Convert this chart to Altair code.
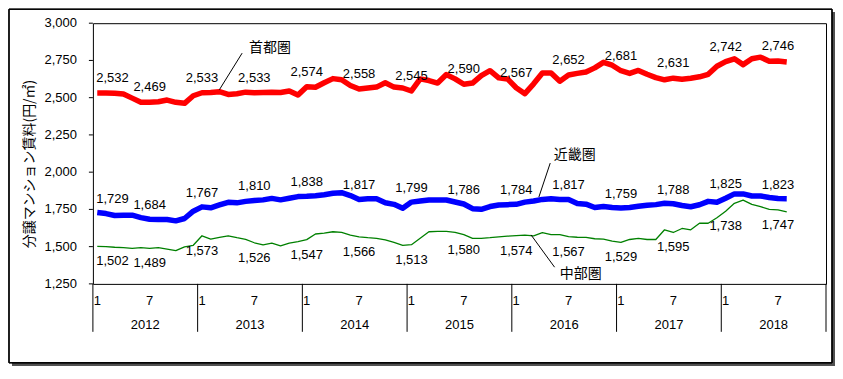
import altair as alt
import pandas as pd

# ---- data (monthly, Jan 2012 - Aug 2018) ----
years = [2012, 2013, 2014, 2015, 2016, 2017, 2018]
series_names = ["首都圏", "近畿圏", "中部圏"]
series_colors = ["#FF0000", "#0000FF", "#008000"]

shuto = [
    2532, 2532, 2530, 2524, 2497, 2469,
    2469, 2473, 2484, 2469, 2462, 2513,
    2533, 2535, 2540, 2522, 2526, 2537,
    2533, 2535, 2537, 2535, 2545, 2518,
    2574, 2570, 2600, 2628, 2620, 2582,
    2558, 2565, 2571, 2600, 2571, 2565,
    2545, 2626, 2615, 2598, 2655, 2626,
    2590, 2598, 2648, 2681, 2633, 2626,
    2567, 2527, 2593, 2666, 2666, 2611,
    2652, 2663, 2672, 2700, 2737, 2718,
    2681, 2663, 2683, 2657, 2635, 2620,
    2631, 2624, 2631, 2640, 2657, 2711,
    2742, 2761, 2722, 2761, 2772, 2744,
    2746, 2740,
]
kinki = [
    1729, 1722, 1709, 1711, 1711, 1695,
    1684, 1682, 1682, 1673, 1689, 1738,
    1767, 1761, 1780, 1798, 1794, 1804,
    1810, 1814, 1824, 1814, 1825, 1836,
    1838, 1842, 1848, 1858, 1862, 1843,
    1817, 1821, 1821, 1795, 1784, 1758,
    1799, 1806, 1813, 1813, 1813, 1800,
    1786, 1755, 1751, 1769, 1780, 1782,
    1784, 1799, 1806, 1817, 1821, 1817,
    1817, 1790, 1785, 1763, 1770, 1763,
    1759, 1763, 1771, 1778, 1782, 1791,
    1788, 1776, 1768, 1781, 1804, 1798,
    1825, 1854, 1854, 1840, 1840, 1830,
    1823, 1822,
]
chubu = [
    1502, 1500, 1496, 1494, 1488, 1494,
    1489, 1493, 1484, 1473, 1498, 1509,
    1573, 1551, 1562, 1573, 1560, 1549,
    1526, 1512, 1523, 1505, 1523, 1534,
    1547, 1585, 1591, 1600, 1596, 1578,
    1566, 1560, 1556, 1545, 1528, 1509,
    1513, 1556, 1600, 1602, 1602, 1596,
    1580, 1556, 1556, 1560, 1566, 1570,
    1574, 1578, 1572, 1594, 1581, 1581,
    1567, 1563, 1562, 1553, 1551, 1537,
    1529, 1548, 1555, 1548, 1548, 1613,
    1595, 1622, 1613, 1657, 1657, 1694,
    1738, 1791, 1812, 1784, 1768, 1750,
    1747, 1733,
]
month_tick_labels = ["1", "7"]
y_ticks = [1250, 1500, 1750, 2000, 2250, 2500, 2750, 3000]
y_title = "分譲マンション賃料(円/㎡)"

# annotation positions in data units (month index, value)
ann_t = [20.3, 55.2, 55.9]
ann_v = [2832, 2115, 1317]
lead_t1 = [17.1, 52.4, 50.2]
lead_v1 = [2799, 2061, 1579]
lead_t2 = [14.5, 51.1, 52.9]
lead_v2 = [2554, 1833, 1362]

# ---- tables ----
rows = []
for name, vals in zip(series_names, [shuto, kinki, chubu]):
    for i, v in enumerate(vals):
        rows.append({"i": i, "t": i + 0.5, "series": name, "value": v})
df = pd.DataFrame(rows)

ann = pd.DataFrame({"t": ann_t, "v": ann_v, "label": series_names})
lead = pd.DataFrame({"t1": lead_t1, "v1": lead_v1, "t2": lead_t2, "v2": lead_v2})

mt = []
for k in range(len(years)):
    mt.append({"t": 12 * k + 0.5, "label": month_tick_labels[0]})
    mt.append({"t": 12 * k + 6.5, "label": month_tick_labels[1]})
month_df = pd.DataFrame(mt)
year_df = pd.DataFrame({"t": [12 * k + 6 for k in range(len(years))], "label": [str(y) for y in years]})
sep_df = pd.DataFrame({"t": [12 * k for k in range(len(years) + 1)]})
ytick_df = pd.DataFrame({"value": y_ticks})

W, H = 734, 261
FONT = "Liberation Sans"
JFONT = "Noto Sans CJK JP"

xs = alt.Scale(domain=[0, 12 * len(years)], nice=False, zero=False)
ys = alt.Scale(domain=[1250, 3000], nice=False, zero=False)

X = alt.X("t:Q", scale=xs, axis=None)
Yn = alt.Y("value:Q", scale=ys, axis=None)

base = alt.Chart(df)

# frame + shadow
shadow_r = alt.Chart(ann).mark_rect(color="#505050").encode(
    x=alt.value(740), x2=alt.value(743), y=alt.value(-11), y2=alt.value(343))
shadow_b = alt.Chart(ann).mark_rect(color="#505050").encode(
    x=alt.value(-81), x2=alt.value(743), y=alt.value(340), y2=alt.value(343))
frame = alt.Chart(ann).mark_rect(fillOpacity=0, stroke="black", strokeWidth=1).encode(
    x=alt.value(-84), x2=alt.value(740), y=alt.value(-14), y2=alt.value(340))

layers = [shadow_r, shadow_b, frame]

# y axis ticks and labels
layers.append(alt.Chart(ytick_df).mark_rule(color="black", strokeWidth=1).encode(
    x=alt.value(-4), x2=alt.value(0), y=Yn))
layers.append(alt.Chart(ytick_df).mark_text(
    font=FONT, fontSize=13, color="black", align="right", baseline="middle", dx=-16
).encode(x=alt.value(0), y=Yn, text=alt.Text("value:Q", format=",")))

widths = [5.5, 5.5, 1.3]
offsets = [-15, -14, 15]
for name, col, w, off in zip(series_names, series_colors, widths, offsets):
    sub = base.transform_filter(alt.datum.series == name)
    layers.append(sub.mark_line(color=col, strokeWidth=w, strokeJoin="round").encode(x=X, y=Yn))
    layers.append(
        sub.transform_filter("datum.i % 6 == 0 && datum.i > 0").mark_text(
            font=FONT, fontSize=13, color="black", dy=off, baseline="middle"
        ).encode(x=X, y=Yn, text=alt.Text("value:Q", format=","))
    )
    layers.append(
        sub.transform_filter("datum.i == 0").mark_text(
            font=FONT, fontSize=13, color="black", dy=off, dx=-1, baseline="middle", align="left"
        ).encode(x=X, y=Yn, text=alt.Text("value:Q", format=","))
    )

# leaders and annotation labels
layers.append(alt.Chart(lead).mark_rule(color="black", strokeWidth=1).encode(
    x=alt.X("t1:Q", scale=xs, axis=None), x2="t2:Q",
    y=alt.Y("v1:Q", scale=ys, axis=None), y2="v2:Q"))
layers.append(alt.Chart(ann).mark_text(font=JFONT, fontSize=14, color="black", baseline="middle").encode(
    x=alt.X("t:Q", scale=xs, axis=None), y=alt.Y("v:Q", scale=ys, axis=None), text="label:N"))

# x axis: month labels, year labels, separators
layers.append(alt.Chart(sep_df).mark_rule(color="black", strokeWidth=1).encode(
    x=alt.X("t:Q", scale=xs, axis=None), y=alt.value(H), y2=alt.value(H + 48)))
layers.append(alt.Chart(month_df).mark_text(font=FONT, fontSize=13, color="black", baseline="middle").encode(
    x=alt.X("t:Q", scale=xs, axis=None), y=alt.value(H + 17), text="label:N"))
layers.append(alt.Chart(year_df).mark_text(font=FONT, fontSize=13, color="black", baseline="middle").encode(
    x=alt.X("t:Q", scale=xs, axis=None), y=alt.value(H + 41), text="label:N"))

# y title
layers.append(alt.Chart(ann).transform_filter("datum.label == '首都圏'").transform_calculate(
    ttl=f"'{y_title}'").mark_text(
    font=JFONT, fontSize=14, color="black", angle=270, align="center", baseline="middle").encode(
    x=alt.value(-63), y=alt.value(141), text="ttl:N"))

chart = alt.layer(*layers).properties(
    width=W, height=H,
    autosize=alt.AutoSizeParams(type="none"),
    padding={"left": 85, "top": 15, "right": 9, "bottom": 82},
    background="white",
).configure_view(stroke="black", strokeWidth=1)

chart.save("out.html", embed_options={"renderer": "svg", "actions": False})
